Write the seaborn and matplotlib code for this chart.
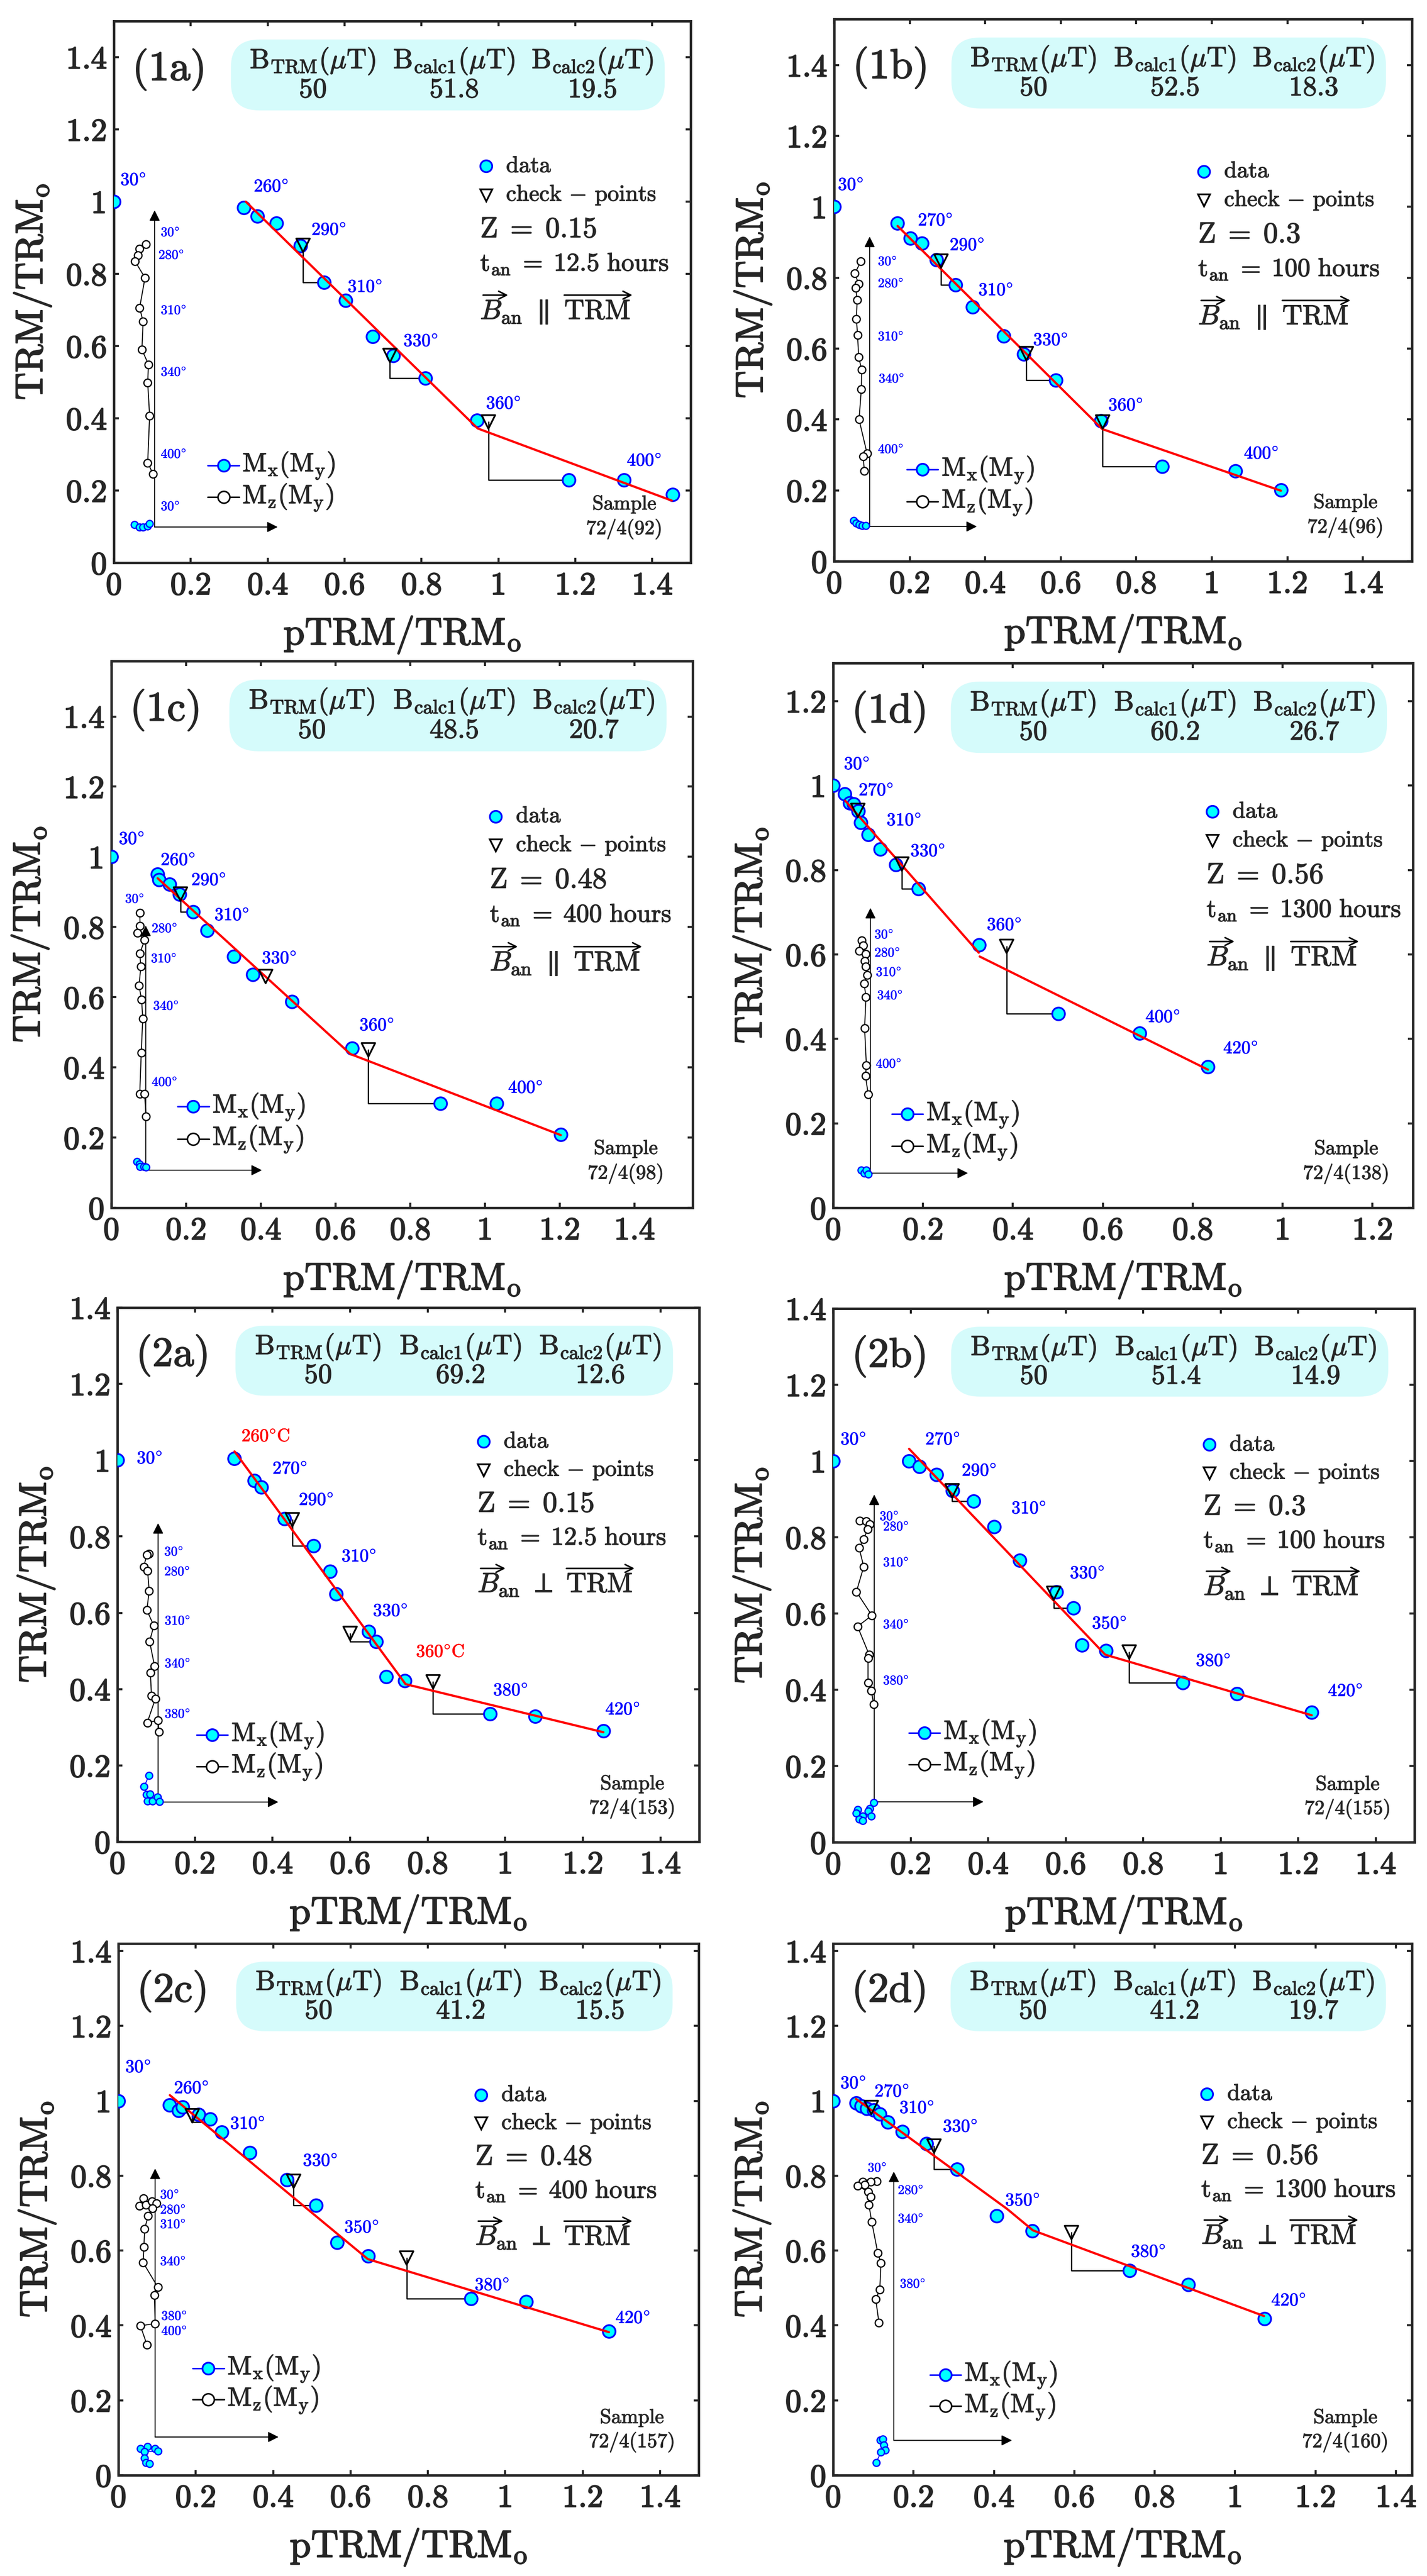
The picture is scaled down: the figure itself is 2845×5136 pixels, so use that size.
import numpy as np
import matplotlib
matplotlib.use('Agg')
import matplotlib.pyplot as plt
import matplotlib.patheffects as pe
from matplotlib.patches import FancyBboxPatch
from matplotlib.ticker import FuncFormatter
import seaborn as sns

NAN = float('nan')

# ---------------- values ----------------
PANELS = ['(1a)', '(1b)', '(1c)', '(1d)', '(2a)', '(2b)', '(2c)', '(2d)']
B_TRM = ['50', '50', '50', '50', '50', '50', '50', '50']
B_CALC1 = ['51.8', '52.5', '48.5', '60.2', '69.2', '51.4', '41.2', '41.2']
B_CALC2 = ['19.5', '18.3', '20.7', '26.7', '12.6', '14.9', '15.5', '19.7']
Z_VALUES = ['0.15', '0.3', '0.48', '0.56', '0.15', '0.3', '0.48', '0.56']
T_AN = ['12.5', '100', '400', '1300', '12.5', '100', '400', '1300']
FIELD_REL = [r'\parallel'] * 4 + [r'\perp'] * 4
SAMPLES = ['72/4(92)', '72/4(96)', '72/4(98)', '72/4(138)',
           '72/4(153)', '72/4(155)', '72/4(157)', '72/4(160)']

XMAX = [1.5, 1.53, 1.556, 1.29, 1.5, 1.5, 1.5, 1.44]
YMAX = [1.5, 1.53, 1.558, 1.29, 1.4, 1.4, 1.42, 1.42]

DATA_X = [
    [0.0, 0.338, 0.373, 0.422, 0.485, 0.546, 0.602, 0.673, 0.726, 0.810, 0.944, 1.183, 1.326, 1.453],
    [0.0, 0.168, 0.202, 0.233, 0.271, 0.321, 0.367, 0.449, 0.502, 0.587, 0.707, 0.868, 1.063, 1.183],
    [0.0, 0.124, 0.127, 0.156, 0.183, 0.219, 0.257, 0.327, 0.378, 0.483, 0.645, 0.881, 1.031, 1.203],
    [0.0, 0.026, 0.037, 0.046, 0.056, 0.061, 0.078, 0.105, 0.139, 0.190, 0.325, 0.501, 0.682, 0.834],
    [0.0, 0.301, 0.353, 0.371, 0.430, 0.505, 0.548, 0.564, 0.648, 0.667, 0.693, 0.741, 0.961, 1.077, 1.253],
    [0.0, 0.196, 0.223, 0.267, 0.308, 0.362, 0.415, 0.482, 0.576, 0.620, 0.642, 0.704, 0.902, 1.042, 1.235],
    [0.0, 0.132, 0.156, 0.166, 0.208, 0.237, 0.267, 0.340, 0.436, 0.511, 0.565, 0.645, 0.912, 1.054, 1.268],
    [0.0, 0.057, 0.070, 0.083, 0.101, 0.116, 0.136, 0.172, 0.232, 0.308, 0.407, 0.496, 0.738, 0.883, 1.073],
]
DATA_Y = [
    [1.0, 0.983, 0.960, 0.940, 0.878, 0.777, 0.727, 0.626, 0.574, 0.511, 0.395, 0.229, 0.229, 0.189],
    [1.0, 0.954, 0.912, 0.898, 0.850, 0.780, 0.718, 0.636, 0.585, 0.511, 0.397, 0.267, 0.255, 0.201],
    [1.0, 0.950, 0.935, 0.922, 0.894, 0.844, 0.791, 0.716, 0.665, 0.587, 0.455, 0.297, 0.297, 0.208],
    [1.0, 0.980, 0.959, 0.956, 0.939, 0.912, 0.884, 0.849, 0.813, 0.756, 0.622, 0.460, 0.413, 0.334],
    [1.0, 1.004, 0.947, 0.930, 0.847, 0.775, 0.709, 0.650, 0.551, 0.524, 0.432, 0.422, 0.335, 0.329, 0.291],
    [1.0, 1.0, 0.986, 0.964, 0.923, 0.895, 0.828, 0.739, 0.657, 0.614, 0.517, 0.503, 0.418, 0.390, 0.341],
    [1.0, 0.989, 0.974, 0.983, 0.963, 0.951, 0.916, 0.862, 0.789, 0.721, 0.621, 0.586, 0.472, 0.463, 0.385],
    [1.0, 0.994, 0.986, 0.979, 0.975, 0.964, 0.943, 0.918, 0.885, 0.817, 0.692, 0.652, 0.547, 0.509, 0.418],
]

# pTRM check-points and the point each check bracket runs back to
CHECK_X = [[0.492, 0.718, 0.974], [0.283, 0.509, 0.711], [0.185, 0.413, 0.688], [0.055, 0.153, 0.386],
           [0.451, 0.600, 0.814], [0.307, 0.569, 0.764], [0.191, 0.453, 0.745], [0.095, 0.251, 0.593]]
CHECK_Y = [[0.879, 0.574, 0.390], [0.847, 0.586, 0.393], [0.894, 0.659, 0.450], [0.941, 0.814, 0.619],
           [0.844, 0.546, 0.419], [0.922, 0.653, 0.499], [0.960, 0.785, 0.580], [0.982, 0.879, 0.648]]
CHECK_TO_X = [[0.546, 0.810, 1.183], [0.321, 0.587, 0.868], [0.219, NAN, 0.881], [NAN, 0.190, 0.501],
              [0.505, 0.667, 0.961], [0.345, 0.620, 0.902], [0.223, 0.511, 0.912], [0.116, 0.308, 0.738]]
CHECK_TO_Y = [[0.777, 0.511, 0.229], [0.780, 0.511, 0.267], [0.844, NAN, 0.297], [NAN, 0.756, 0.460],
              [0.775, 0.524, 0.335], [0.895, 0.614, 0.418], [0.943, 0.721, 0.472], [0.964, 0.817, 0.547]]

# red two-segment fits
FIT_X = [[0.343, 0.946, 1.451], [0.168, 0.710, 1.183], [0.124, 0.640, 1.203],
         [0.027, 0.324, NAN, 0.326, 0.834], [0.302, 0.743, 1.253], [0.196, 0.702, 1.235],
         [0.133, 0.645, 1.268], [0.057, 0.433, 0.497, 1.072]]
FIT_Y = [[1.0, 0.372, 0.172], [0.946, 0.373, 0.199], [0.939, 0.438, 0.207],
         [0.964, 0.604, NAN, 0.595, 0.327], [1.023, 0.413, 0.287], [1.032, 0.492, 0.333],
         [1.015, 0.577, 0.382], [1.005, 0.711, 0.654, 0.425]]

# temperature labels of the Arai points
TEMP_TEXT = [
    ['30°', '260°', '290°', '310°', '330°', '360°', '400°'],
    ['30°', '270°', '290°', '310°', '330°', '360°', '400°'],
    ['30°', '260°', '290°', '310°', '330°', '360°', '400°'],
    ['30°', '270°', '310°', '330°', '360°', '400°', '420°'],
    ['30°', '260°C', '270°', '290°', '310°', '330°', '360°C', '380°', '420°'],
    ['30°', '270°', '290°', '310°', '330°', '350°', '380°', '420°'],
    ['30°', '260°', '310°', '330°', '350°', '380°', '420°'],
    ['30°', '270°', '310°', '330°', '350°', '380°', '420°'],
]
TEMP_X = [[0.017, 0.364, 0.514, 0.608, 0.753, 0.968, 1.334],
          [0.010, 0.222, 0.306, 0.382, 0.527, 0.726, 1.085],
          [0.020, 0.132, 0.214, 0.276, 0.403, 0.664, 1.062],
          [0.024, 0.057, 0.119, 0.172, 0.342, 0.695, 0.868],
          [0.050, 0.320, 0.400, 0.468, 0.578, 0.659, 0.770, 0.969, 1.258],
          [0.019, 0.238, 0.332, 0.460, 0.611, 0.668, 0.936, 1.277],
          [0.018, 0.144, 0.289, 0.477, 0.584, 0.921, 1.285],
          [0.018, 0.103, 0.165, 0.273, 0.428, 0.741, 1.090]]
TEMP_Y = [[1.058, 1.040, 0.920, 0.762, 0.612, 0.439, 0.281],
          [1.060, 0.960, 0.890, 0.763, 0.622, 0.438, 0.302],
          [1.049, 0.989, 0.932, 0.832, 0.709, 0.518, 0.340],
          [1.049, 0.987, 0.916, 0.843, 0.668, 0.450, 0.376],
          [1.003, 1.061, 0.976, 0.894, 0.746, 0.603, 0.496, 0.395, 0.345],
          [1.055, 1.055, 0.973, 0.874, 0.704, 0.572, 0.474, 0.395],
          [1.088, 1.032, 0.937, 0.838, 0.660, 0.506, 0.418],
          [1.045, 1.023, 0.979, 0.929, 0.732, 0.595, 0.465]]

# Zijderveld insets: Mz(My) open circles, Mx(My) filled circles
MZ_X = [[0.084, 0.066, 0.063, 0.055, 0.081, 0.067, 0.076, 0.073, 0.090, 0.088, 0.093, 0.088, 0.102],
        [0.071, 0.055, 0.065, 0.057, 0.061, 0.059, 0.062, 0.065, 0.073, 0.072, 0.066, 0.087, 0.077, 0.080],
        [0.076, 0.077, 0.070, 0.089, 0.076, 0.079, 0.074, 0.081, 0.084, 0.080, 0.076, 0.089, 0.093],
        [0.064, 0.067, 0.058, 0.073, 0.070, 0.073, 0.076, 0.069, 0.073, 0.070, 0.074, 0.072, 0.078],
        [0.082, 0.076, 0.068, 0.078, 0.082, 0.076, 0.094, 0.083, 0.096, 0.085, 0.088, 0.098, 0.077, 0.105, 0.107],
        [0.068, 0.085, 0.095, 0.089, 0.079, 0.067, 0.079, 0.060, 0.100, 0.063, 0.093, 0.090, 0.090, 0.098, 0.105],
        [0.065, 0.055, 0.071, 0.087, 0.098, 0.088, 0.077, 0.068, 0.066, 0.064, 0.102, 0.093, 0.095, 0.057, 0.074],
        [0.109, 0.093, 0.073, 0.078, 0.061, 0.087, 0.094, 0.089, 0.096, 0.111, 0.119, 0.116, 0.106, 0.114]]
MZ_Y = [[0.882, 0.869, 0.851, 0.835, 0.789, 0.706, 0.668, 0.590, 0.549, 0.499, 0.407, 0.277, 0.246],
        [0.847, 0.812, 0.782, 0.772, 0.737, 0.684, 0.638, 0.576, 0.540, 0.485, 0.400, 0.305, 0.296, 0.255],
        [0.840, 0.803, 0.783, 0.763, 0.724, 0.687, 0.633, 0.593, 0.539, 0.441, 0.324, 0.324, 0.260],
        [0.633, 0.621, 0.608, 0.601, 0.584, 0.571, 0.551, 0.531, 0.499, 0.425, 0.337, 0.312, 0.269],
        [0.755, 0.752, 0.721, 0.710, 0.657, 0.607, 0.566, 0.525, 0.460, 0.443, 0.382, 0.375, 0.312, 0.318, 0.288],
        [0.844, 0.842, 0.834, 0.821, 0.795, 0.772, 0.723, 0.657, 0.595, 0.566, 0.492, 0.483, 0.418, 0.398, 0.362],
        [0.739, 0.720, 0.722, 0.731, 0.726, 0.713, 0.693, 0.658, 0.610, 0.568, 0.502, 0.481, 0.405, 0.399, 0.348],
        [0.785, 0.784, 0.784, 0.776, 0.773, 0.757, 0.743, 0.722, 0.677, 0.594, 0.567, 0.495, 0.470, 0.407]]
MX_X = [[0.054, 0.066, 0.075, 0.088, 0.092],
        [0.052, 0.058, 0.066, 0.074, 0.084],
        [0.069, 0.075, 0.077, 0.087, 0.093],
        [0.062, 0.069, 0.074, 0.078],
        [0.081, 0.069, 0.075, 0.084, 0.078, 0.090, 0.104, 0.108],
        [0.105, 0.095, 0.090, 0.099, 0.077, 0.063, 0.060, 0.067, 0.077],
        [0.057, 0.075, 0.094, 0.102, 0.067, 0.067, 0.071, 0.080],
        [0.117, 0.124, 0.126, 0.130, 0.119, 0.107]]
MX_Y = [[0.105, 0.099, 0.099, 0.101, 0.108],
        [0.114, 0.108, 0.103, 0.100, 0.100],
        [0.131, 0.125, 0.117, 0.117, 0.116],
        [0.089, 0.082, 0.089, 0.080],
        [0.173, 0.144, 0.123, 0.125, 0.107, 0.107, 0.117, 0.105],
        [0.104, 0.088, 0.082, 0.069, 0.069, 0.086, 0.076, 0.060, 0.056],
        [0.071, 0.076, 0.071, 0.064, 0.063, 0.046, 0.034, 0.031],
        [0.094, 0.097, 0.080, 0.067, 0.061, 0.034]]
# inset axes: origin, end of vertical arrow, end of horizontal arrow
ZIJ_OX = [0.106, 0.094, 0.092, 0.083, 0.105, 0.106, 0.095, 0.151]
ZIJ_OY = [0.099, 0.098, 0.107, 0.082, 0.104, 0.106, 0.102, 0.093]
ZIJ_TOP = [0.976, 0.916, 0.804, 0.710, 0.835, 0.912, 0.819, 0.811]
ZIJ_RIGHT = [0.426, 0.378, 0.403, 0.300, 0.415, 0.388, 0.414, 0.445]

INSET_TEXT = [['30°', '280°', '310°', '340°', '400°', '30°'],
              ['30°', '280°', '310°', '340°', '400°'],
              ['30°', '280°', '310°', '340°', '400°'],
              ['30°', '280°', '310°', '340°', '400°'],
              ['30°', '280°', '310°', '340°', '380°'],
              ['30°', '280°', '310°', '340°', '380°'],
              ['30°', '280°', '310°', '340°', '380°', '400°'],
              ['30°', '280°', '340°', '380°']]
INSET_X = [[0.122, 0.116, 0.122, 0.122, 0.122, 0.122],
           [0.116, 0.116, 0.116, 0.118, 0.116],
           [0.037, 0.108, 0.106, 0.112, 0.108],
           [0.092, 0.092, 0.095, 0.098, 0.095],
           [0.121, 0.121, 0.122, 0.122, 0.122],
           [0.120, 0.129, 0.129, 0.129, 0.129],
           [0.108, 0.108, 0.108, 0.108, 0.111, 0.111],
           [0.086, 0.161, 0.161, 0.166]]
INSET_Y = [[0.914, 0.851, 0.698, 0.527, 0.300, 0.155],
           [0.845, 0.783, 0.633, 0.514, 0.315],
           [0.879, 0.795, 0.709, 0.574, 0.357],
           [0.646, 0.603, 0.557, 0.502, 0.340],
           [0.759, 0.707, 0.578, 0.466, 0.334],
           [0.854, 0.827, 0.733, 0.570, 0.423],
           [0.748, 0.708, 0.669, 0.570, 0.424, 0.384],
           [0.820, 0.760, 0.684, 0.510]]

# ---------------- layout ----------------
W, H = 2845, 5136
AX_PIX = [(227, 42, 1377, 1122), (1663, 38, 2815, 1119),
          (222, 1318, 1381, 2408), (1661, 1322, 2817, 2408),
          (234, 2607, 1394, 3672), (1661, 2609, 2820, 3673),
          (236, 3875, 1393, 4935), (1661, 3875, 2815, 4935)]
LEG_X = [0.645, 0.640, 0.661, 0.654, 0.629, 0.647, 0.625, 0.646]
LEG_Y = [0.732, 0.719, 0.716, 0.727, 0.749, 0.745, 0.715, 0.717]
ZL_X = [0.190, 0.153, 0.141, 0.128, 0.163, 0.157, 0.155, 0.194]
ZL_Y = [0.180, 0.169, 0.185, 0.172, 0.200, 0.205, 0.201, 0.189]

CYAN = '#00ffff'
BLUE = '#0000ff'
BOX = '#d5fbfb'

sns.set_style('ticks')
plt.rcParams.update({
    'font.family': 'serif',
    'font.serif': ['cmr10'],
    'mathtext.fontset': 'cm',
    'axes.formatter.use_mathtext': True,
    'axes.unicode_minus': False,
})

fig = plt.figure(figsize=(W / 100, H / 100), dpi=100)
fmt = FuncFormatter(lambda v, p: f'{v:g}')
arrow_jobs = []


def heavy(t, lw):
    # the scanned original has heavier strokes than plain cmr10
    t.set_path_effects([pe.withStroke(linewidth=lw, foreground=t.get_color())])
    return t


def temp_label(s):
    if s.endswith('C'):
        return s[:-2] + r'$^{\circ}$C', 'red'
    return r'$\mathbf{' + s[:-1] + r'}^{\circ}$', BLUE


def draw_panel(i):
    l, t, r, b = AX_PIX[i]
    ax = fig.add_axes([l / W, 1 - b / H, (r - l) / W, (b - t) / H])
    ax.set_xlim(0, XMAX[i])
    ax.set_ylim(0, YMAX[i])
    ax.set_xticks(np.arange(0, XMAX[i] + 1e-9, 0.2))
    ax.set_yticks(np.arange(0, YMAX[i] + 1e-9, 0.2))
    ax.xaxis.set_major_formatter(fmt)
    ax.yaxis.set_major_formatter(fmt)
    ax.tick_params(direction='in', length=7, width=3, top=True, right=True, labelsize=46)
    ax.tick_params(axis='x', pad=13)
    ax.tick_params(axis='y', pad=10)
    for lab in ax.get_xticklabels() + ax.get_yticklabels():
        heavy(lab, 1.6)
    for sp in ax.spines.values():
        sp.set_linewidth(3.5)
    heavy(ax.set_xlabel(r'$\mathrm{pTRM/TRM_o}$', fontsize=55), 1.6)
    heavy(ax.set_ylabel(r'$\mathrm{TRM/TRM_o}$', fontsize=55), 1.6)
    ax.xaxis.set_label_coords(0.5, -103 / (b - t))
    ax.yaxis.set_label_coords(-122 / (r - l), 0.5)

    tr = ax.transAxes
    # info box
    ax.add_patch(FancyBboxPatch((0.203, 0.835), 0.752, 0.131,
                                boxstyle='round,pad=0,rounding_size=0.05',
                                transform=tr, fc=BOX, ec='none', zorder=1))
    heads = [r'$\mathrm{B_{TRM}}(\mu\mathrm{T})$', r'$\mathrm{B_{calc1}}(\mu\mathrm{T})$',
             r'$\mathrm{B_{calc2}}(\mu\mathrm{T})$']
    vals = [B_TRM[i], B_CALC1[i], B_CALC2[i]]
    for cx, hd, vv in zip([0.345, 0.59, 0.83], heads, vals):
        heavy(ax.text(cx, 0.926, hd, transform=tr, ha='center', va='center', fontsize=40, zorder=2), 1.0)
        heavy(ax.text(cx, 0.872, vv, transform=tr, ha='center', va='center', fontsize=40, zorder=2), 1.0)
    heavy(ax.text(0.032, 0.91, PANELS[i], transform=tr, ha='left', va='center', fontsize=60), 1.4)

    # Arai plot
    ax.plot(FIT_X[i], FIT_Y[i], color='red', lw=3.2, zorder=6)
    for cx, cy, tx, ty in zip(CHECK_X[i], CHECK_Y[i], CHECK_TO_X[i], CHECK_TO_Y[i]):
        if not np.isnan(tx):
            ax.plot([cx, cx, tx], [cy, ty, ty], color='k', lw=1.8, zorder=4)
    sns.scatterplot(x=DATA_X[i], y=DATA_Y[i], ax=ax, s=330, color=CYAN,
                    edgecolor=BLUE, linewidth=2.5, zorder=5, legend=False)
    ax.scatter(CHECK_X[i], CHECK_Y[i], marker='v', s=380, facecolors='none',
               edgecolors='k', linewidths=2.5, zorder=7)
    for s, x, y in zip(TEMP_TEXT[i], TEMP_X[i], TEMP_Y[i]):
        txt, col = temp_label(s)
        heavy(ax.text(x, y, txt, color=col, fontsize=26, ha='left', va='center', zorder=8), 0.6)

    # Zijderveld inset
    ox, oy = ZIJ_OX[i], ZIJ_OY[i]
    arw = dict(arrowstyle='-|>', lw=1.4, color='k', shrinkA=0, shrinkB=0, mutation_scale=32)
    ax.annotate('', xy=(ox, ZIJ_TOP[i]), xytext=(ox, oy), arrowprops=arw, zorder=3)
    ax.annotate('', xy=(ZIJ_RIGHT[i], oy), xytext=(ox, oy), arrowprops=arw, zorder=3)
    sns.lineplot(x=MZ_X[i], y=MZ_Y[i], ax=ax, sort=False, estimator=None, color='k', lw=1.4,
                 marker='o', markersize=11, markerfacecolor='white', markeredgecolor='k',
                 markeredgewidth=1.8, zorder=4, legend=False)
    sns.lineplot(x=MX_X[i], y=MX_Y[i], ax=ax, sort=False, estimator=None, color=BLUE, lw=1.4,
                 marker='o', markersize=10, markerfacecolor=CYAN, markeredgecolor=BLUE,
                 markeredgewidth=1.8, zorder=4, legend=False)
    for s, x, y in zip(INSET_TEXT[i], INSET_X[i], INSET_Y[i]):
        txt, col = temp_label(s)
        heavy(ax.text(x, y, txt, color=col, fontsize=19, ha='left', va='center', zorder=8), 0.4)

    # inset legend
    zx, zy = ZL_X[i], ZL_Y[i]
    ax.plot([zx - 0.027, zx, zx + 0.027], [zy] * 3, transform=tr, color=BLUE, lw=2.2,
            marker='o', markevery=[1], ms=17, mfc=CYAN, mec=BLUE, mew=2.5)
    ax.plot([zx - 0.027, zx, zx + 0.027], [zy - 0.059] * 3, transform=tr, color='k', lw=2.2,
            marker='o', markevery=[1], ms=17, mfc='white', mec='k', mew=2.2)
    heavy(ax.text(zx + 0.033, zy, r'$\mathrm{M_x(M_y)}$', transform=tr, fontsize=38,
                  va='center'), 1.0)
    heavy(ax.text(zx + 0.033, zy - 0.059, r'$\mathrm{M_z(M_y)}$', transform=tr, fontsize=38,
                  va='center'), 1.0)

    # right legend block
    lx, ly = LEG_X[i], LEG_Y[i]
    ax.plot([lx], [ly], 'o', transform=tr, ms=17, mfc=CYAN, mec=BLUE, mew=2.5)
    ax.plot([lx], [ly - 0.053], 'v', transform=tr, ms=17, mfc='none', mec='k', mew=2.5)
    heavy(ax.text(lx + 0.035, ly, 'data', transform=tr, fontsize=33, va='center'), 0.9)
    heavy(ax.text(lx + 0.035, ly - 0.053, r'check $-$ points', transform=tr, fontsize=33,
                  va='center'), 0.9)
    heavy(ax.text(lx - 0.01, ly - 0.118, r'$\mathrm{Z}\;=\;' + Z_VALUES[i] + '$', transform=tr,
                  fontsize=42, va='center'), 1.0)
    heavy(ax.text(lx - 0.01, ly - 0.181,
                  r'$\mathrm{t_{an}}\;=\;\mathrm{' + T_AN[i] + r'\ hours}$',
                  transform=tr, fontsize=37, va='center'), 1.0)
    bt = heavy(ax.text(lx - 0.01, ly - 0.282,
                       r'$B_{\mathrm{an}}\ ' + FIELD_REL[i] + r'\ \mathrm{TRM}$',
                       transform=tr, fontsize=40, va='baseline'), 1.0)
    arrow_jobs.append((ax, bt, lx - 0.01, ly - 0.282))

    heavy(ax.text(0.885, 0.108, 'Sample', transform=tr, ha='center', va='center', fontsize=29), 0.8)
    heavy(ax.text(0.885, 0.062, SAMPLES[i], transform=tr, ha='center', va='center', fontsize=29), 0.8)
    return ax


for k in range(len(PANELS)):
    draw_panel(k)

# vector arrows over "B" and "TRM"
fig.canvas.draw()
rend = fig.canvas.get_renderer()
vec = dict(arrowstyle='->', lw=2.2, color='k', shrinkA=0, shrinkB=0, mutation_scale=28)
for ax, bt, x, y in arrow_jobs:
    full = bt.get_window_extent(rend)
    probe = ax.text(x, y, r'$\mathrm{TRM}$', transform=ax.transAxes, fontsize=40, va='baseline')
    pt = probe.get_window_extent(rend)
    probe.remove()
    probe = ax.text(x, y, r'$B$', transform=ax.transAxes, fontsize=40, va='baseline')
    pb = probe.get_window_extent(rend)
    probe.remove()
    yy = pt.y1 + 9
    ax.annotate('', xy=(full.x1 + 4, yy), xytext=(full.x1 - pt.width, yy),
                xycoords='figure pixels', textcoords='figure pixels', annotation_clip=False,
                arrowprops=vec)
    ax.annotate('', xy=(pb.x1 + 12, yy), xytext=(pb.x0 + 6, yy),
                xycoords='figure pixels', textcoords='figure pixels', annotation_clip=False,
                arrowprops=vec)

fig.savefig('out.png', dpi=100)
